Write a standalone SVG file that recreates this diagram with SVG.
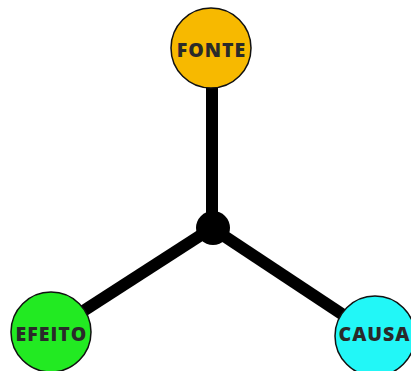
<svg xmlns="http://www.w3.org/2000/svg" width="411" height="371" viewBox="0 0 411 371">
<style>
.n{stroke:#111;stroke-width:1.5}
.t{font-family:"Open Sans","Liberation Sans",sans-serif;font-weight:800;font-size:19.5px;letter-spacing:1px;fill:#2a2a2a;text-anchor:middle;dominant-baseline:central}
.c{stroke:#000;stroke-width:12;fill:none}
</style>
<rect width="411" height="371" fill="#fff"/>
<g id="connectors">
<line class="c" x1="212" y1="80" x2="212" y2="228"/>
<line class="c" x1="212" y1="228" x2="60" y2="326"/>
<line class="c" x1="212" y1="228" x2="366" y2="330"/>
<circle cx="213" cy="228" r="17" fill="#000"/>
</g>
<g id="fonte">
<circle class="n" cx="211" cy="48" r="40" fill="#F7B900"/>
<text class="t" x="211.5" y="49">FONTE</text>
</g>
<g id="efeito">
<circle class="n" cx="51" cy="332" r="40" fill="#22EA22"/>
<text class="t" x="51.5" y="333">EFEITO</text>
</g>
<g id="causa">
<circle class="n" cx="375" cy="336" r="40" fill="#22F7F7"/>
<text class="t" x="374.5" y="333">CAUSA</text>
</g>
</svg>
